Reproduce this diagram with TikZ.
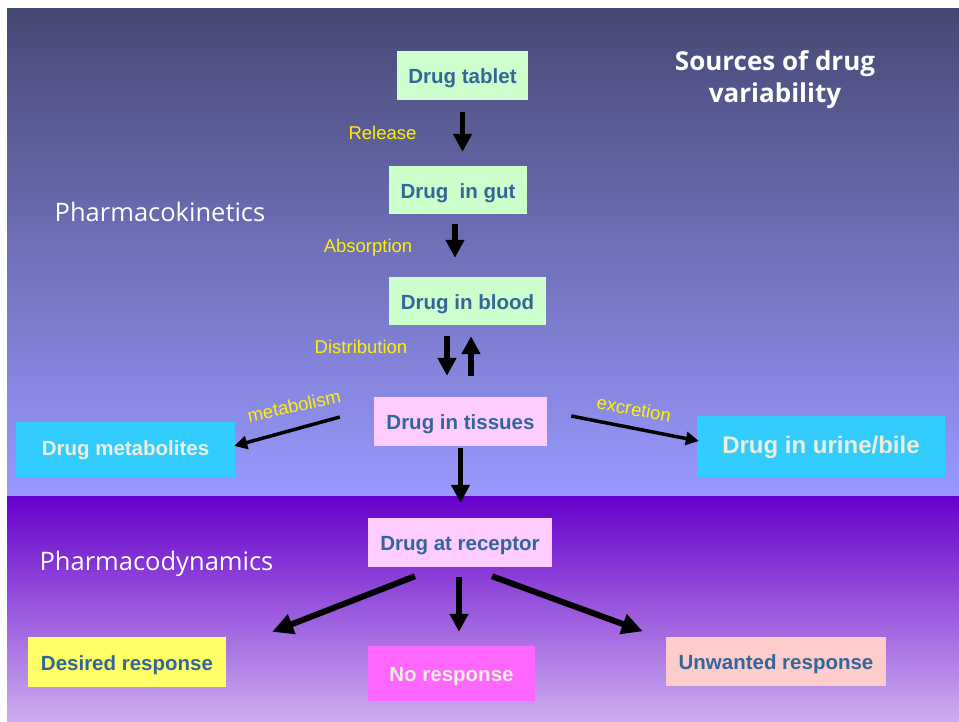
\documentclass[tikz,border=0pt]{standalone}
\usepackage{fontspec}
\setmainfont{Liberation Sans}
\newfontfamily\handfont{Open Sans}
\usetikzlibrary{arrows.meta}

\definecolor{topdark}{RGB}{70,72,116}
\definecolor{toplight}{RGB}{153,153,255}
\definecolor{botdark}{HTML}{6600CC}
\definecolor{botlight}{RGB}{204,174,238}
\definecolor{boxtext}{HTML}{336699}
\definecolor{lighttext}{HTML}{EEEEDD}
\definecolor{pkgreen}{HTML}{CCFFCC}
\definecolor{pkpink}{HTML}{FFCCFF}
\definecolor{pkcyan}{HTML}{33CCFF}
\definecolor{pdyellow}{HTML}{FFFF66}
\definecolor{pdmagenta}{HTML}{FF66FF}
\definecolor{pdsalmon}{HTML}{FFCCCC}

\begin{document}
\begin{tikzpicture}[
    x=1pt, y=-1pt,
    % Cajas de estado del fármaco
    box/.style={inner sep=0pt, text height=16pt, text depth=0pt, text=boxtext, font=\bfseries\fontsize{20.5}{24}\selectfont},
    pkbox/.style={box, fill=pkgreen},
    tisbox/.style={box, fill=pkpink},
    outbox/.style={box, fill=pkcyan, text=lighttext},
    % Flechas
    arr/.style={line width=5.5pt, -{Triangle[length=18pt,width=18pt]}},
    thinarr/.style={line width=3.5pt, -{Triangle[length=13pt,width=13pt]}},
    bigarr/.style={line width=6pt, -{Triangle[length=21pt,width=20pt]}},
    % Etiquetas de los procesos
    step label/.style={text=yellow, font=\fontsize{18.5}{22}\selectfont},
    heading/.style={text=white, font=\handfont\fontsize{25.5}{30}\selectfont}
]
    \useasboundingbox (0,0) rectangle (959,721);

    % ==========================================
    % FONDO: dos franjas con degradado
    % ==========================================
    \shade[top color=topdark, bottom color=toplight] (7,8) rectangle (959,496);
    \shade[top color=botdark, bottom color=botlight] (7,496) rectangle (959,721);

    % Titulos
    \node[heading] (pk) at (160,212) {Pharmacokinetics};
    \node[heading] (pd) at (156.5,564) {Pharmacodynamics};
    \node[heading, font=\handfont\bfseries\fontsize{26}{32}\selectfont, align=center] (src) at (775,80) {Sources of drug\\variability};

    % ==========================================
    % FARMACOCINETICA
    % ==========================================
    \node[pkbox, minimum width=131pt, minimum height=49pt] (tablet) at (462.5,75.5) {Drug tablet};
    \node[pkbox, minimum width=138pt, minimum height=48pt] (gut) at (458,190) {Drug~ in gut};
    \node[pkbox, minimum width=157pt, minimum height=48pt] (blood) at (467.5,301) {Drug in blood};
    \node[tisbox, minimum width=173pt, minimum height=49pt] (tissues) at (460.5,421.5) {Drug in tissues};
    \node[outbox, minimum width=219pt, minimum height=55pt, text height=12pt] (metab) at (125.5,449.5) {Drug metabolites};
    \node[outbox, minimum width=248pt, minimum height=61pt, text height=13pt, font=\bfseries\fontsize{24}{28}\selectfont] (urine) at (821,446.5) {Drug in urine/bile};

    \node[step label] (release) at (382.5,133) {Release};
    \node[step label] (absorb) at (368,248) {Absorption};
    \node[step label] (distrib) at (361,347) {Distribution};
    \node[step label, rotate=12] (metlbl) at (294,406) {metabolism};
    \node[step label, rotate=-10.5] (exclbl) at (634,409) {excretion};

    \draw[arr, shorten <=12pt, shorten >=14pt] (tablet.south) -- (tablet.south |- gut.north);
    \draw[arr, shorten <=10pt, shorten >=19pt] ([xshift=-3pt]gut.south) -- ([xshift=-3pt]gut.south |- blood.north);
    \draw[arr, shorten <=11pt, shorten >=21pt] ([xshift=-20.5pt]blood.south) -- ([xshift=-20.5pt]blood.south |- tissues.north);
    \draw[arr, shorten <=21pt, shorten >=11pt] ([xshift=3.5pt]blood.south |- tissues.north) -- ([xshift=3.5pt]blood.south);
    \draw[thinarr] ([xshift=-34pt,yshift=4.5pt]tissues.west) -- ([xshift=-1pt,yshift=3.5pt]metab.east);
    \draw[thinarr] ([xshift=24pt,yshift=5.5pt]tissues.east) -- ([xshift=2pt,yshift=5.5pt]urine.west);

    % ==========================================
    % FARMACODINAMICA
    % ==========================================
    \node[tisbox, minimum width=184pt, minimum height=49pt] (receptor) at (460,542.5) {Drug at receptor};
    \node[box, fill=pdyellow, minimum width=198pt, minimum height=50pt] (desired) at (127,662) {Desired response};
    \node[box, fill=pdmagenta, text=lighttext, minimum width=167pt, minimum height=55pt] (noresp) at (451.5,673.5) {No response};
    \node[box, fill=pdsalmon, minimum width=220pt, minimum height=49pt] (unwanted) at (776,661) {Unwanted response};

    \draw[arr, shorten <=2pt, shorten >=15pt] (tissues.south) -- (tissues.south |- receptor.north);
    \draw[bigarr] ([xshift=-45pt,yshift=-9pt]receptor.south) -- ([xshift=46pt,yshift=5pt]desired.north east);
    \draw[arr, shorten <=10pt, shorten >=14pt] ([xshift=-1pt]receptor.south) -- ([xshift=-1pt]receptor.south |- noresp.north);
    \draw[bigarr] ([xshift=32pt,yshift=-9pt]receptor.south) -- ([xshift=-23pt,yshift=5pt]unwanted.north west);

\end{tikzpicture}
\end{document}
